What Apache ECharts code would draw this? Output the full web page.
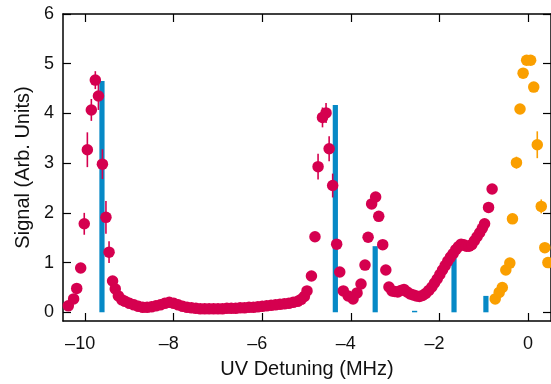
<!DOCTYPE html>
<html><head><meta charset="utf-8">
<script src="https://cdn.jsdelivr.net/npm/echarts@6/dist/echarts.min.js"></script>
<style>html,body{margin:0;padding:0;background:#fff}#c{width:551px;height:384px}</style>
</head><body><div id="c"></div>
<script>
// ---- data ----
const xTicks = [-10, -8, -6, -4, -2, 0];
const yTicks = [0, 1, 2, 3, 4, 5, 6];

const redX = [-10.53,-10.38,-10.26,-10.19,-10.10,-10.02,-9.95,-9.86,-9.77,-9.70,-9.61,-9.53,-9.46,-9.38,-9.32,-9.25,-9.17,
  -9.1,-9.0,-8.9,-8.8,-8.7,-8.6,-8.5,-8.4,-8.3,-8.2,-8.1,-8.0,-7.9,-7.8,-7.7,-7.6,-7.5,-7.4,-7.3,-7.2,-7.1,-7.0,-6.9,-6.8,
  -6.7,-6.6,-6.5,-6.4,-6.3,-6.2,-6.1,-6.0,-5.9,-5.8,-5.7,-5.6,-5.5,-5.4,-5.3,-5.2,-5.12,-5.05,-4.99,-4.89,-4.81,-4.74,
  -4.64,-4.56,-4.49,-4.41,-4.32,-4.25,-4.17,-4.06,-3.95,-3.86,-3.77,-3.68,-3.61,-3.53,-3.44,-3.37,-3.28,-3.21,-3.14,
  -3.07,-3.01,-2.94,-2.87,-2.80,-2.73,-2.66,-2.59,-2.52,-2.45,-2.38,-2.31,-2.24,-2.17,-2.11,-2.05,-1.99,-1.93,-1.87,
  -1.81,-1.75,-1.69,-1.63,-1.57,-1.51,-1.45,-1.39,-1.33,-1.27,-1.21,-1.15,-1.09,-1.03,-0.98,-0.89,-0.81];
const redY = [0.10,0.13,0.27,0.48,0.89,1.78,3.27,4.07,4.67,4.35,2.98,1.91,1.21,0.63,0.47,0.33,0.25,
  0.22,0.18,0.15,0.12,0.10,0.10,0.11,0.13,0.15,0.18,0.20,0.18,0.15,0.12,0.10,0.09,0.08,0.07,0.07,0.07,0.07,0.07,0.07,0.08,
  0.08,0.08,0.09,0.09,0.10,0.10,0.11,0.12,0.13,0.14,0.15,0.16,0.17,0.18,0.20,0.22,0.26,0.32,0.43,0.73,1.52,2.93,
  3.92,4.01,3.29,2.55,1.37,0.81,0.43,0.33,0.27,0.39,0.57,0.95,1.51,2.18,2.32,1.93,1.36,0.85,0.51,
  0.43,0.42,0.41,0.44,0.46,0.41,0.37,0.35,0.33,0.32,0.34,0.38,0.44,0.51,0.59,0.67,0.76,0.85,0.94,
  1.03,1.11,1.18,1.26,1.32,1.37,1.36,1.33,1.33,1.36,1.44,1.52,1.60,1.69,1.78,2.11,2.48];

const redErrX = [-10.02,-9.95,-9.86,-9.77,-9.70,-9.61,-9.53,-9.46,-4.81,-4.74,-4.64,-4.56,-4.49,-4.41];
const redErrY = [1.78,3.27,4.07,4.67,4.35,2.98,1.91,1.21,1.52,2.93,3.92,4.01,3.29,2.55];
const redErrE = [0.22,0.35,0.22,0.18,0.28,0.30,0.33,0.22,0.08,0.26,0.20,0.20,0.25,0.24];

const orangeX = [-0.74,-0.65,-0.58,-0.50,-0.41,-0.35,-0.26,-0.18,-0.11,-0.03,0.06,0.13,0.21,0.30,0.38,0.45];
const orangeY = [0.27,0.40,0.50,0.85,0.99,1.88,3.01,4.09,4.81,5.07,5.07,4.53,3.37,2.13,1.30,1.00];
const orangeErrX = [-0.35,-0.26,0.21,0.30];
const orangeErrY = [1.88,3.01,3.37,2.13];
const orangeErrE = [0.10,0.12,0.27,0.14];

const stickX = [-9.62,-4.35,-3.45,-2.56,-1.67,-0.95];
const stickY = [4.65,4.17,1.33,0.03,1.30,0.33];

// ---- chart ----
const RED = '#D5004F', ORANGE = '#FA9F00', BLUE = '#0689C6';
const FONT = 'Liberation Sans';
const zip = (a, b) => a.map((v, i) => [v, b[i]]);
const zip3 = (a, b, c) => a.map((v, i) => [v, b[i], c[i]]);
// minus hangs to the left of the centred digits: pad with an invisible dash on the right
const xFmt = v => v < 0 ? '\u2013' + String(-v) + '{h|\u2013}' : String(v);

function errItem(color) {
  return function (params, api) {
    const x = api.value(0), y = api.value(1), e = api.value(2);
    const p1 = api.coord([x, y - e]), p2 = api.coord([x, y + e]);
    return { type: 'line', shape: { x1: p1[0], y1: p1[1], x2: p2[0], y2: p2[1] },
      style: { stroke: color, lineWidth: 1.6 } };
  };
}

const chart = echarts.init(document.getElementById('c'), null, { renderer: 'canvas' });
const axisLine = { show: true, onZero: false, lineStyle: { color: '#000', width: 1.5 } };
const tickStyle = { color: '#000', width: 1.2 };
chart.setOption({
  animation: false,
  backgroundColor: '#fff',
  textStyle: { fontFamily: FONT },
  grid: { left: 63, right: -1, top: 14, bottom: 62 },
  xAxis: [{
    type: 'value', min: -10.5, max: 0.52, position: 'bottom',
    axisLine: axisLine, splitLine: { show: false },
    axisTick: { show: true, inside: true, length: 8, customValues: xTicks, lineStyle: tickStyle },
    axisLabel: { customValues: xTicks, formatter: xFmt, color: '#111', fontSize: 18, fontFamily: FONT, margin: 14,
      rich: { h: { color: 'rgba(0,0,0,0)', fontSize: 18, fontFamily: FONT } } },
    name: 'UV Detuning (MHz)', nameLocation: 'middle', nameGap: 38,
    nameTextStyle: { fontSize: 20, color: '#111', fontFamily: FONT }
  }, {
    type: 'value', min: -10.5, max: 0.52, position: 'top',
    axisLine: axisLine, splitLine: { show: false },
    axisTick: { show: true, inside: true, length: 8, customValues: xTicks, lineStyle: tickStyle },
    axisLabel: { show: false }
  }],
  yAxis: [{
    type: 'value', min: -0.175, max: 6, position: 'left',
    axisLine: axisLine, splitLine: { show: false },
    axisTick: { show: true, inside: true, length: 8, customValues: yTicks, lineStyle: tickStyle },
    axisLabel: { customValues: yTicks, color: '#111', fontSize: 18, fontFamily: FONT, margin: 9 },
    name: 'Signal (Arb. Units)', nameLocation: 'middle', nameGap: 30,
    nameTextStyle: { fontSize: 20, color: '#111', fontFamily: FONT }
  }, {
    type: 'value', min: -0.175, max: 6, position: 'right',
    axisLine: axisLine, splitLine: { show: false },
    axisTick: { show: true, inside: true, length: 8, customValues: yTicks, lineStyle: tickStyle },
    axisLabel: { show: false }
  }],
  series: [
    { type: 'custom', z: 1, data: zip(stickX, stickY),
      renderItem: function (params, api) {
        const x = api.value(0), h = api.value(1);
        const p0 = api.coord([x, 0]), p1 = api.coord([x, h]);
        return { type: 'rect', shape: { x: p0[0] - 2.6, y: p1[1], width: 5.2, height: Math.max(p0[1] - p1[1], 1) },
          style: { fill: BLUE } };
      } },
    { type: 'custom', z: 2, data: zip3(redErrX, redErrY, redErrE), renderItem: errItem(RED) },
    { type: 'custom', z: 2, data: zip3(orangeErrX, orangeErrY, orangeErrE), renderItem: errItem(ORANGE) },
    { type: 'scatter', z: 3, symbol: 'circle', symbolSize: 11.5, data: zip(redX, redY),
      itemStyle: { color: RED, opacity: 1 } },
    { type: 'scatter', z: 3, symbol: 'circle', symbolSize: 11.5, data: zip(orangeX, orangeY),
      itemStyle: { color: ORANGE, opacity: 1 } }
  ]
});
</script>
</body></html>
